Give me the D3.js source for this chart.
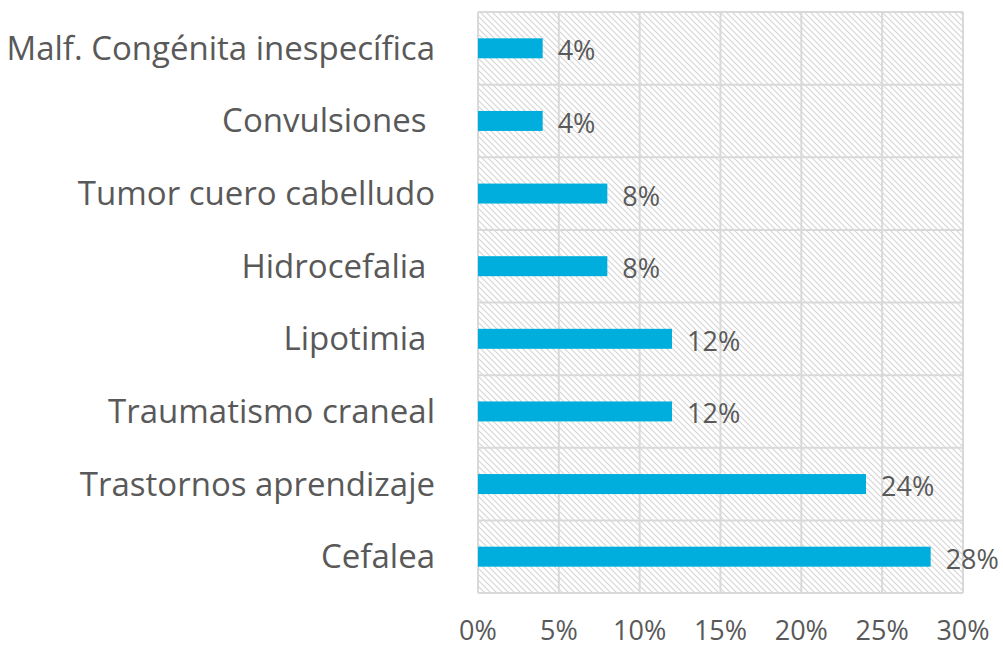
<!DOCTYPE html>
<html>
<head>
<meta charset="utf-8">
<script src="https://cdn.jsdelivr.net/npm/d3@7"></script>
<style>
  body { margin: 0; background: #fff; }
  text { font-family: "Open Sans", Lato, sans-serif; fill: #595959; }
</style>
</head>
<body>
<svg id="chart" width="1003" height="648"></svg>
<script>
const categories = ['Malf. Congénita inespecífica', 'Convulsiones ', 'Tumor cuero cabelludo', 'Hidrocefalia ',
  'Lipotimia ', 'Traumatismo craneal', 'Trastornos aprendizaje', 'Cefalea']
const values = [0.04, 0.04, 0.08, 0.08, 0.12, 0.12, 0.24, 0.28]
const ticks = [0, 0.05, 0.10, 0.15, 0.20, 0.25, 0.30]

const svg = d3.select('#chart')
const plotLeft = 478, plotRight = 963, plotTop = 12, plotBottom = 593

let x = d3.scaleLinear().domain([0, 0.3]).range([plotLeft, plotRight])
let y = d3.scaleBand().domain(categories).range([plotTop, plotBottom])

// hatch background
let defs = svg.append('defs')
defs.append('pattern')
  .attr('id', 'hatch')
  .attr('patternUnits', 'userSpaceOnUse')
  .attr('width', 6).attr('height', 6)
  .append('path')
  .attr('d', 'M-1,-1 L7,7 M5,-1 L7,1 M-1,5 L1,7')
  .attr('stroke', '#d4d4d4')
  .attr('stroke-width', 1.1)

svg.append('rect')
  .attr('x', plotLeft).attr('y', plotTop)
  .attr('width', plotRight - plotLeft).attr('height', plotBottom - plotTop)
  .attr('fill', 'url(#hatch)')

// grid
let grid = svg.append('g').attr('stroke', '#d9d9d9').attr('stroke-width', 2)
grid.selectAll('line.v').data(ticks).join('line')
  .attr('x1', d => x(d)).attr('x2', d => x(d))
  .attr('y1', plotTop).attr('y2', plotBottom)
let bounds = categories.map(c => y(c)).concat([plotBottom])
grid.selectAll('line.h').data(bounds).join('line')
  .attr('x1', plotLeft).attr('x2', plotRight)
  .attr('y1', d => d).attr('y2', d => d)

// bars
const barH = 20
svg.selectAll('rect.bar').data(values).join('rect')
  .attr('class', 'bar')
  .attr('x', x(0))
  .attr('y', (d, i) => y(categories[i]) + y.bandwidth() / 2 - barH / 2)
  .attr('width', d => x(d) - x(0))
  .attr('height', barH)
  .attr('fill', '#00aedd')

// value labels
svg.selectAll('text.val').data(values).join('text')
  .attr('class', 'val')
  .attr('x', d => x(d) + 15)
  .attr('y', (d, i) => y(categories[i]) + y.bandwidth() / 2 + 12)
  .attr('font-size', 27)
  .text(d => Math.round(d * 100) + '%')

// category labels
svg.selectAll('text.cat').data(categories).join('text')
  .attr('class', 'cat')
  .attr('x', 435)
  .attr('y', d => y(d) + y.bandwidth() / 2)
  .attr('dy', '0.35em')
  .attr('text-anchor', 'end')
  .attr('font-size', 33)
  .style('white-space', 'pre')
  .text(d => d)

// x tick labels
svg.selectAll('text.tick').data(ticks).join('text')
  .attr('class', 'tick')
  .attr('x', d => x(d))
  .attr('y', 640)
  .attr('text-anchor', 'middle')
  .attr('font-size', 27)
  .text(d => Math.round(d * 100) + '%')
</script>
</body>
</html>
